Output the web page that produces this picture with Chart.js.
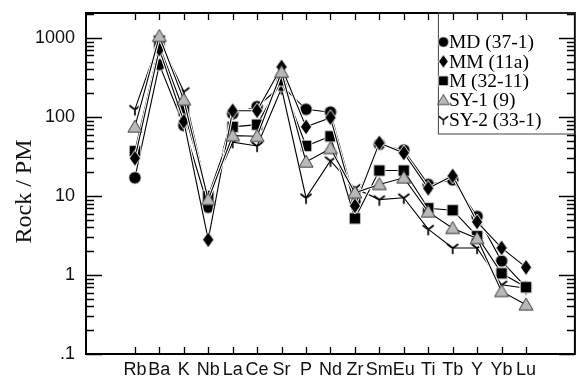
<!DOCTYPE html>
<html>
<head>
<meta charset="utf-8">
<script src="https://cdn.jsdelivr.net/npm/chart.js@4.4.1/dist/chart.umd.min.js"></script>
<style>
  html, body { margin: 0; padding: 0; background: #fff; }
  #wrap { width: 580px; height: 376px; }
</style>
</head>
<body>
<div id="wrap"><canvas id="spider" width="580" height="376"></canvas></div>
<script>
// Primitive-mantle normalised trace elements (Rock / PM)
const elements = ['Rb','Ba','K','Nb','La','Ce','Sr','P','Nd','Zr','Sm','Eu','Ti','Tb','Y','Yb','Lu'];
const sampleLabels = ['MD (37-1)', 'MM (11a)', 'M (32-11)', 'SY-1 (9)', 'SY-2 (33-1)'];
const md  = [17, 460, 78, 7.2, 110, 135, 250, 125, 115, 8.5, 45, 38, 14, 16, 5.5, 1.5, 0.7];
const mm  = [30, 720, 88, 2.8, 120, 120, 430, 75, 98, 7.5, 47, 35, 12.5, 18, 4.7, 2.2, 1.25];
const m   = [37, 800, 120, 10, 75, 80, 290, 43, 57, 5.2, 21, 21, 7, 6.6, 3.1, 1.05, 0.7];
const sy1 = [75, 1050, 165, 9, 58, 57, 370, 27, 40, 11, 14, 17, 6.3, 3.9, 2.9, 0.62, 0.42];
const sy2 = [125, 950, 210, 9.5, 48, 43, 230, 9.5, 28, 12.5, 9, 9.5, 3.8, 2.2, 2.2, 0.75, 0.68];
const yTickValues = [0.1, 1, 10, 100, 1000];
const yTickLabels = ['.1', '1', '10', '100', '1000'];

// Marker sprites used both on the lines and in the legend
function makeMarker(kind) {
  const size = 22, h = size / 2;
  const c = document.createElement('canvas');
  c.width = size; c.height = size;
  const g = c.getContext('2d');
  g.lineJoin = 'miter';
  g.beginPath();
  if (kind === 'circle') {
    g.arc(h, h, 6.2, 0, Math.PI * 2);
  } else if (kind === 'diamond') {
    g.moveTo(h, h - 8); g.lineTo(h + 5.6, h); g.lineTo(h, h + 8); g.lineTo(h - 5.6, h); g.closePath();
  } else if (kind === 'square') {
    g.rect(h - 5.8, h - 5.8, 11.6, 11.6);
  } else if (kind === 'triangle') {
    g.moveTo(h, h - 6.8); g.lineTo(h + 7, h + 5.2); g.lineTo(h - 7, h + 5.2); g.closePath();
    g.fillStyle = '#b9b9b9'; g.fill();
    g.strokeStyle = '#3a3a3a'; g.lineWidth = 1; g.stroke();
    return c;
  } else if (kind === 'fork') {
    g.moveTo(h, h + 5.5); g.lineTo(h, h);
    g.moveTo(h - 5, h - 3.5); g.quadraticCurveTo(h - 1.5, h - 0.5, h, h);
    g.moveTo(h + 5, h - 3.5); g.quadraticCurveTo(h + 1.5, h - 0.5, h, h);
    g.strokeStyle = '#000'; g.lineWidth = 1.7; g.lineCap = 'round'; g.stroke();
    return c;
  }
  g.fillStyle = '#000'; g.fill();
  g.strokeStyle = '#ffffff'; g.lineWidth = 0.9; g.stroke();
  return c;
}

const series = [
  { label: sampleLabels[0], values: md,  marker: makeMarker('circle'),   order: 4 },
  { label: sampleLabels[1], values: mm,  marker: makeMarker('diamond'),  order: 2 },
  { label: sampleLabels[2], values: m,   marker: makeMarker('square'),   order: 3 },
  { label: sampleLabels[3], values: sy1, marker: makeMarker('triangle'), order: 1 },
  { label: sampleLabels[4], values: sy2, marker: makeMarker('fork'),     order: 5 }
];

const datasets = series.map(s => ({
  label: s.label,
  data: s.values.map((v, i) => ({ x: i, y: v })),
  pointStyle: s.marker,
  borderColor: '#000',
  borderWidth: 1.1,
  tension: 0,
  fill: false,
  order: s.order
}));

// White casing under each line so crossing lines stay separated
const lineCasing = {
  id: 'lineCasing',
  beforeDatasetDraw(chart, args) {
    const pts = args.meta.data;
    if (!pts.length) return;
    const ctx = chart.ctx;
    ctx.save();
    ctx.beginPath();
    pts.forEach((p, i) => (i ? ctx.lineTo(p.x, p.y) : ctx.moveTo(p.x, p.y)));
    ctx.strokeStyle = '#fff';
    ctx.lineWidth = 3.2;
    ctx.lineJoin = 'round';
    ctx.stroke();
    ctx.restore();
  }
};

// Frame with inward ticks on all four sides, plus the y-axis title
const framePlugin = {
  id: 'frame',
  afterDatasetsDraw(chart) {
    const { ctx, chartArea: a, scales: { x, y } } = chart;
    ctx.save();
    ctx.strokeStyle = '#000';
    ctx.lineWidth = 1.3;
    ctx.beginPath();
    x.ticks.forEach(t => {
      const px = Math.round(x.getPixelForValue(t.value)) + 0.5;
      ctx.moveTo(px, a.bottom); ctx.lineTo(px, a.bottom - 7);
      ctx.moveTo(px, a.top); ctx.lineTo(px, a.top + 7);
    });
    for (let d = -1; d <= 3; d++) {
      for (let k = 1; k <= 9; k++) {
        const v = k * Math.pow(10, d);
        if (v < y.min || v > y.max) continue;
        const py = Math.round(y.getPixelForValue(v)) + 0.5;
        const len = k === 1 ? 16 : 8;
        ctx.moveTo(a.left, py); ctx.lineTo(a.left + len, py);
        ctx.moveTo(a.right, py); ctx.lineTo(a.right - len, py);
      }
    }
    ctx.stroke();
    ctx.lineWidth = 2;
    ctx.strokeRect(a.left, a.top, a.right - a.left, a.bottom - a.top);

    ctx.fillStyle = '#111';
    ctx.font = '24px "Liberation Serif", "Times New Roman", serif';
    ctx.textAlign = 'center';
    ctx.textBaseline = 'middle';
    ctx.translate(25, (a.top + a.bottom) / 2 + 8);
    ctx.rotate(-Math.PI / 2);
    ctx.fillText('Rock / PM', 0, 0);
    ctx.restore();
  }
};

// Boxed legend in the upper-right corner of the plot
const boxLegend = {
  id: 'boxLegend',
  afterDraw(chart) {
    const { ctx, chartArea: a } = chart;
    const w = 137, hgt = 121;
    const left = a.right - w, top = a.top;
    ctx.save();
    ctx.strokeStyle = '#444';
    ctx.lineWidth = 1;
    ctx.strokeRect(left + 0.5, top, w, hgt);
    ctx.font = '19.5px "Liberation Serif", "Times New Roman", serif';
    ctx.fillStyle = '#000';
    ctx.textBaseline = 'middle';
    ctx.textAlign = 'left';
    chart.data.datasets.forEach((ds, i) => {
      const cy = top + 29 + i * 19.4;
      const img = ds.pointStyle;
      ctx.save();
      ctx.translate(left + 5.5, cy);
      ctx.scale(0.85, 0.85);
      ctx.drawImage(img, -img.width / 2, -img.height / 2);
      ctx.restore();
      ctx.fillText(ds.label, left + 11, cy + 1);
    });
    ctx.restore();
  }
};

new Chart(document.getElementById('spider'), {
  type: 'line',
  data: { datasets },
  options: {
    responsive: false,
    animation: false,
    layout: { padding: { top: 13, right: 5, left: 0, bottom: 0 } },
    plugins: { legend: { display: false }, tooltip: { enabled: false } },
    scales: {
      x: {
        type: 'linear',
        min: -2,
        max: 18,
        afterBuildTicks: s => { s.ticks = elements.map((_, i) => ({ value: i })); },
        afterFit: s => { s.height = 22; s.paddingLeft = 0; s.paddingRight = 0; },
        grid: { display: false, drawTicks: false },
        border: { display: false },
        ticks: {
          autoSkip: false,
          maxRotation: 0,
          padding: 5,
          color: '#111',
          font: { family: '"Liberation Sans", Arial, sans-serif', size: 18 },
          callback: v => elements[v]
        }
      },
      y: {
        type: 'logarithmic',
        min: 0.1,
        max: 2070,
        afterBuildTicks: s => { s.ticks = yTickValues.map(v => ({ value: v })); },
        afterFit: s => { s.width = 86; s.paddingTop = 0; s.paddingBottom = 0; },
        grid: { display: false, drawTicks: false },
        border: { display: false },
        ticks: {
          padding: 11,
          color: '#111',
          font: { family: '"Liberation Sans", Arial, sans-serif', size: 18 },
          callback: v => yTickLabels[yTickValues.indexOf(v)]
        }
      }
    }
  },
  plugins: [lineCasing, framePlugin, boxLegend]
});
</script>
</body>
</html>
